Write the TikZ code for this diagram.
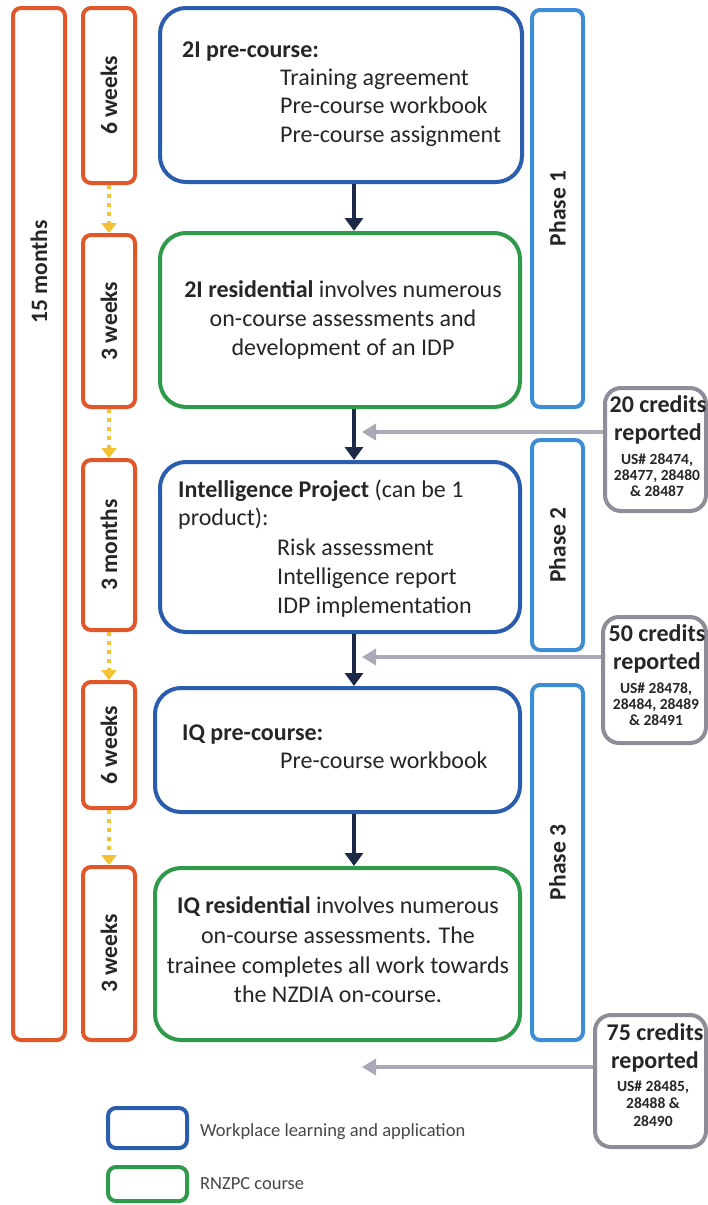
\documentclass[tikz,border=0pt]{standalone}
\usepackage{fontspec}
\setmainfont{Carlito}
\usetikzlibrary{arrows.meta}
\definecolor{orangeC}{HTML}{E0572A}
\definecolor{blueC}{HTML}{2B5DAE}
\definecolor{phaseC}{HTML}{3C8DD3}
\definecolor{greenC}{HTML}{2F9A4A}
\definecolor{grayC}{HTML}{8E8E99}
\definecolor{arrowgray}{HTML}{A9A9B8}
\definecolor{navyC}{HTML}{1C2A48}
\definecolor{yellowC}{HTML}{F2C230}
\definecolor{txt}{HTML}{262626}
\newcommand\mainfs{\fontsize{24}{28}\selectfont}
\newcommand\labfs{\fontsize{23.5}{26}\selectfont\bfseries}
\newcommand\credfs{\fontsize{24}{26}\selectfont\bfseries}
\newcommand\usfs{\fontsize{15.5}{17}\selectfont\bfseries}
\newcommand\legfs{\fontsize{18.5}{22}\selectfont}
\tikzset{
  orangebox/.style={draw=orangeC, line width=4, rounded corners=8, inner sep=0, minimum width=52},
  bluebox/.style={draw=blueC, line width=4, rounded corners=26, inner sep=0},
  greenbox/.style={draw=greenC, line width=4, rounded corners=26, inner sep=0},
  phasebox/.style={draw=phaseC, line width=4, rounded corners=8, inner sep=0, minimum width=51},
  credbox/.style={draw=grayC, line width=4, rounded corners=16, inner sep=0},
  legblue/.style={draw=blueC, line width=4, rounded corners=8, inner sep=0, minimum width=79},
  leggreen/.style={draw=greenC, line width=4, rounded corners=8, inner sep=0, minimum width=79},
  tl/.style={text=txt, inner sep=0, anchor=base west, font=\mainfs},
  tc/.style={text=txt, inner sep=0, anchor=base, font=\mainfs},
  rot/.style={text=txt, inner sep=0, rotate=90, font=\labfs},
  cr/.style={text=txt, inner sep=0, anchor=base, font=\credfs},
  us/.style={text=txt, inner sep=0, anchor=base, font=\usfs},
  lg/.style={text=txt!85, inner sep=0, anchor=base west, font=\legfs},
  darr/.style={draw=navyC, line width=4, -{Triangle[width=18,length=13]}},
  garr/.style={draw=arrowgray, line width=4, -{Triangle[width=16,length=14]}},
  yarr/.style={draw=yellowC, line width=4, dash pattern={on 4pt off 5pt}, -{Triangle[width=15,length=10]}},
}
\begin{document}
\begin{tikzpicture}[x=1pt,y=-1pt]
\fill[white] (0,0) rectangle (708,1205);
\useasboundingbox (0,0) rectangle (708,1205);

% timeline boxes
\node[orangebox, minimum height=1032] (m15) at (39,524) {};
\node[rot] (t15) at (39,272) {15 months};
\node[orangebox, minimum height=175] (o1) at (109,95.5) {};
\node[rot] (to1) at (o1) {6 weeks};
\node[orangebox, minimum height=172] (o2) at (109,321) {};
\node[rot] (to2) at (o2) {3 weeks};
\node[orangebox, minimum height=170] (o3) at (109,545) {};
\node[rot] (to3) at (o3) {3 months};
\node[orangebox, minimum height=126] (o4) at (109,745) {};
\node[rot] (to4) at (o4) {6 weeks};
\node[orangebox, minimum height=173] (o5) at (109,953.5) {};
\node[rot] (to5) at (o5) {3 weeks};

\draw[yarr] (o1.south) -- (o2.north);
\draw[yarr] (o2.south) -- (o3.north);
\draw[yarr] (o3.south) -- (o4.north);
\draw[yarr] (o4.south) -- (o5.north);

% main boxes
\node[bluebox, minimum width=362, minimum height=174] (b1) at (341,95) {};
\node[tl] (b1h) at (182,57) {\textbf{2I pre-course:}};
\node[tl] (b1a) at (280,85) {Training agreement};
\node[tl] (b1b) at (280,113.5) {Pre-course workbook};
\node[tl] (b1c) at (280,142) {Pre-course assignment};

\node[greenbox, minimum width=360, minimum height=174] (g1) at (340,320) {};
\node[tc] (g1a) at (343,297) {\textbf{2I residential} involves numerous};
\node[tc] (g1b) at (343,326) {on-course assessments and};
\node[tc] (g1c) at (343,355) {development of an IDP};

\node[bluebox, minimum width=360, minimum height=170] (b2) at (340,547) {};
\node[tl] (b2h) at (178,497) {\textbf{Intelligence Project} (can be 1};
\node[tl] (b2i) at (178,525) {product):};
\node[tl] (b2a) at (277,555) {Risk assessment};
\node[tl] (b2b) at (277,584) {Intelligence report};
\node[tl] (b2c) at (277,613) {IDP implementation};

\node[bluebox, minimum width=365, minimum height=124] (b3) at (337.5,750) {};
\node[tl] (b3h) at (182,740) {\textbf{IQ pre-course:}};
\node[tl] (b3a) at (280,768) {Pre-course workbook};

\node[greenbox, minimum width=365, minimum height=172] (g2) at (337.5,954) {};
\node[tc] (g2a) at (338,913) {\textbf{IQ residential} involves numerous};
\node[tc] (g2b) at (338,943) {on-course assessments. The};
\node[tc] (g2c) at (338,973) {trainee completes all work towards};
\node[tc] (g2d) at (338,1002) {the NZDIA on-course.};

\coordinate (ax) at (354,0);
\draw[darr] (b1.south -| ax) -- (g1.north -| ax);
\draw[darr] (g1.south -| ax) -- (b2.north -| ax);
\draw[darr] (b2.south -| ax) -- (b3.north -| ax);
\draw[darr] (b3.south -| ax) -- (g2.north -| ax);

% phases
\node[phasebox, minimum height=397] (ph1) at (557.5,208.5) {};
\node[rot] (tp1) at (ph1) {Phase 1};
\node[phasebox, minimum height=210] (ph2) at (557.5,545) {};
\node[rot] (tp2) at (ph2) {Phase 2};
\node[phasebox, minimum height=355] (ph3) at (557.5,862.5) {};
\node[rot] (tp3) at (ph3) {Phase 3};

% credits
\node[credbox, minimum width=101, minimum height=123] (c1) at (655.5,449.5) {};
\node[cr] (c1a) at (658,412) {20 credits};
\node[cr] (c1b) at (658,440) {reported};
\node[us] (c1c) at (657,464) {US\# 28474,};
\node[us] (c1d) at (657,480) {28477, 28480};
\node[us] (c1e) at (657,496) {\& 28487};

\node[credbox, minimum width=103, minimum height=126] (c2) at (654.5,680) {};
\node[cr] (c2a) at (657,641) {50 credits};
\node[cr] (c2b) at (657,669) {reported};
\node[us] (c2c) at (656,693) {US\# 28478,};
\node[us] (c2d) at (656,709) {28484, 28489};
\node[us] (c2e) at (656,725) {\& 28491};

\node[credbox, minimum width=111, minimum height=132] (c3) at (650.5,1081) {};
\node[cr] (c3a) at (655,1040) {75 credits};
\node[cr] (c3b) at (655,1068) {reported};
\node[us] (c3c) at (653,1091) {US\# 28485,};
\node[us] (c3d) at (653,1108) {28488 \&};
\node[us] (c3e) at (653,1126) {28490};

\coordinate (t1) at (362,432);
\coordinate (t2) at (362,657);
\coordinate (t3) at (362,1067);
\draw[garr] (c1.west |- t1) -- (t1);
\draw[garr] (c2.west |- t2) -- (t2);
\draw[garr] (c3.west |- t3) -- (t3);

% legend
\node[legblue, minimum height=40] (lb) at (147.5,1128) {};
\node[lg] (lbt) at (200,1136) {Workplace learning and application};
\node[leggreen, minimum height=34] (lgr) at (147.5,1184) {};
\node[lg] (lgt) at (200,1189) {RNZPC course};
\end{tikzpicture}
\end{document}
